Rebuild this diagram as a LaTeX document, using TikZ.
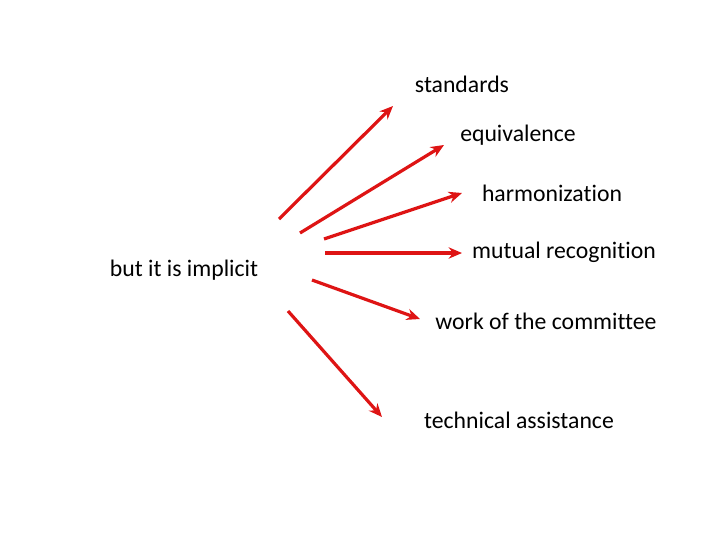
\documentclass[tikz,border=0pt]{standalone}
\usepackage{fontspec}
\setmainfont{Carlito}[Ligatures=NoCommon]
\usetikzlibrary{arrows.meta}
\definecolor{arrowred}{RGB}{222,20,20}

\begin{document}
\begin{tikzpicture}[x=0.75pt,y=0.75pt,yscale=-1,
  topic/.style={font=\fontsize{17.8}{21}\selectfont, inner sep=0pt},
  fanarrow/.style={draw=arrowred, line width=2.4pt, -{Stealth[length=10pt,width=8.5pt]}}]
\useasboundingbox (0,0) rectangle (720,540);

% Text Nodes
\node[topic] (implicit) at (184,270) {but it is implicit};
\node[topic] (standards) at (462,84) {standards};
\node[topic] (equiv) at (518,135) {equivalence};
\node[topic] (harmon) at (552,193) {harmonization};
\node[topic] (mutual) at (564,252) {mutual recognition};
\node[topic] (committee) at (546,321) {work of the committee};
\node[topic] (assist) at (519,420) {technical assistance};

% Arrow ends
\coordinate (s1) at (279,219);
\coordinate (e1) at (393,106);
\coordinate (s2) at (300,233);
\coordinate (e2) at (444,145);
\coordinate (s3) at (324,239);
\coordinate (e3) at (462,193);
\coordinate (s4) at (325,253);
\coordinate (e4) at (462,253);
\coordinate (s5) at (312,280);
\coordinate (e5) at (420,319);
\coordinate (s6) at (288,311);
\coordinate (e6) at (382,417);

% Straight Lines
\draw[fanarrow] (s1) -- (e1);
\draw[fanarrow] (s2) -- (e2);
\draw[fanarrow] (s3) -- (e3);
\draw[fanarrow] (s4) -- (e4);
\draw[fanarrow] (s5) -- (e5);
\draw[fanarrow] (s6) -- (e6);

\end{tikzpicture}
\end{document}
